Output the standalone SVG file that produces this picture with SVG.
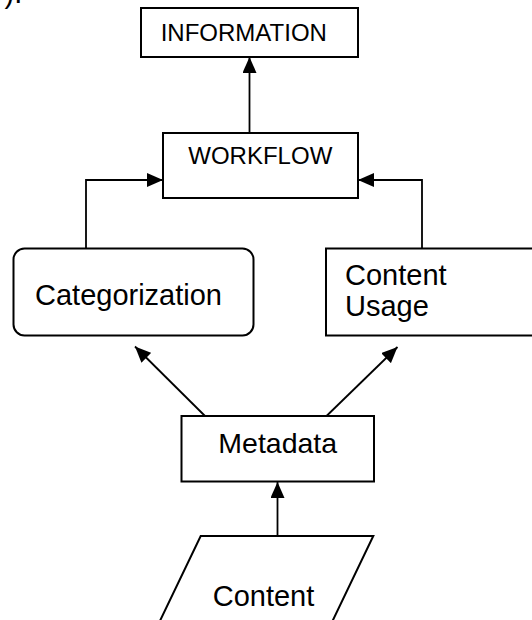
<svg xmlns="http://www.w3.org/2000/svg" width="532" height="620" viewBox="0 0 532 620">
<style>
.box{fill:#fff;stroke:#000;stroke-width:2}
.t24{font-family:"Liberation Sans",Arial,sans-serif;font-size:24px;fill:#000}
.t29{font-family:"Liberation Sans",Arial,sans-serif;font-size:29px;fill:#000}
.conn{fill:none;stroke:#000;stroke-width:1.8}
</style>
<defs>
<marker id="ah" markerUnits="userSpaceOnUse" markerWidth="16" markerHeight="14" refX="16" refY="7" orient="auto">
<path d="M0,0 L16,7 L0,14 z" fill="#000"/>
</marker>
</defs>
<text class="t29" x="-10" y="3">y).</text>
<g id="connectors">
<path class="conn" d="M249.5,133 L249.5,57" marker-end="url(#ah)"/>
<path class="conn" d="M86,248.5 L86,180 L163,180" marker-end="url(#ah)"/>
<path class="conn" d="M422,248 L422,180 L358,180" marker-end="url(#ah)"/>
<path class="conn" d="M205,416 L135,346.5" marker-end="url(#ah)"/>
<path class="conn" d="M326.5,416 L397.5,347" marker-end="url(#ah)"/>
<path class="conn" d="M277.5,536 L277.5,482" marker-end="url(#ah)"/>
</g>
<g id="information">
<rect class="box" x="141" y="8" width="217" height="49"/>
<text class="t24" x="160.7" y="40.7">INFORMATION</text>
</g>
<g id="workflow">
<rect class="box" x="163" y="133" width="195" height="65"/>
<text class="t24" x="188.3" y="164.3">WORKFLOW</text>
</g>
<g id="categorization">
<rect class="box" x="13.5" y="248.5" width="240" height="87" rx="11" ry="11"/>
<text class="t29" x="35" y="305">Categorization</text>
</g>
<g id="content-usage">
<rect class="box" x="326" y="248.5" width="220" height="87"/>
<text class="t29" x="345" y="285">Content</text>
<text class="t29" x="345" y="316">Usage</text>
</g>
<g id="metadata">
<rect class="box" x="181.5" y="416" width="192.5" height="65.5"/>
<text class="t29" x="218.3" y="452.7" style="font-size:28.5px">Metadata</text>
</g>
<g id="content">
<polygon class="box" points="200.7,536 373.3,536 318.6,650 146,650"/>
<text class="t29" x="212.7" y="606">Content</text>
</g>
</svg>
